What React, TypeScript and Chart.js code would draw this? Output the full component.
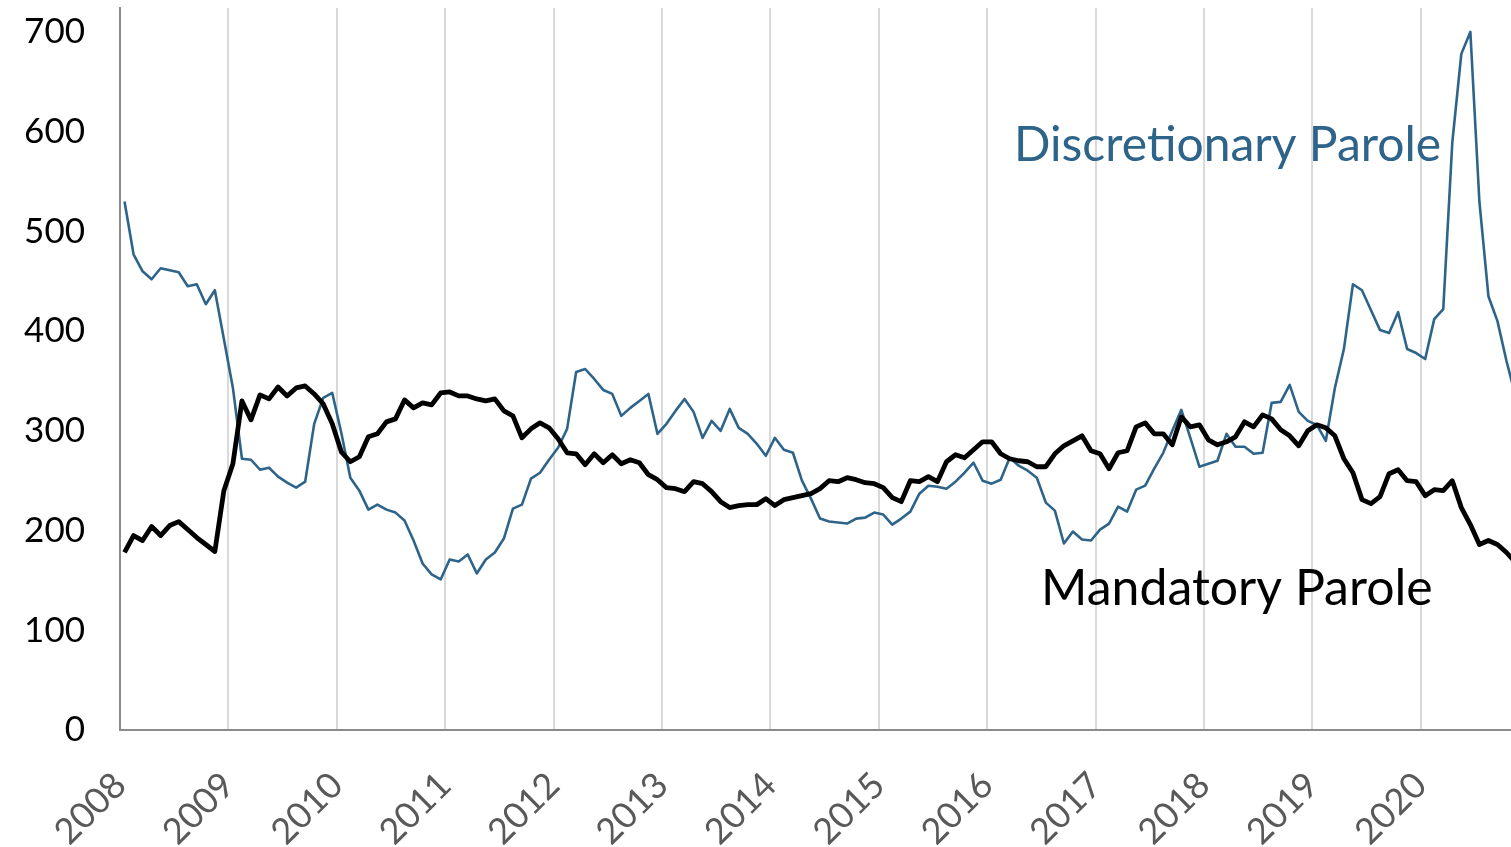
import React, { useEffect, useRef } from "react";
import { Chart, registerables } from "chart.js";

Chart.register(...registerables);

const years: string[] = ["2008","2009","2010","2011","2012","2013","2014","2015","2016","2017","2018","2019","2020"];
const yTicks: number[] = [0, 100, 200, 300, 400, 500, 600, 700];

// Monthly values, Jan 2008 onward
const discretionary: number[] = [
  530,477,460,452,463,461,459,445,447,427,441,392,
  343,272,271,261,263,254,248,243,249,307,333,338,
  298,253,240,221,226,221,218,210,190,167,156,151,
  171,169,176,157,171,178,192,222,226,252,258,271,
  283,302,359,362,352,341,337,315,323,330,337,297,
  307,320,332,319,293,310,300,322,303,297,287,275,
  293,281,278,250,232,212,209,208,207,212,213,218,
  216,206,212,219,237,245,244,242,249,258,268,250,
  247,251,273,265,260,253,228,220,187,199,191,190,
  201,207,224,219,241,245,262,278,300,321,293,264,
  267,270,297,284,284,277,278,328,329,346,319,310,
  306,290,343,382,447,441,421,401,398,419,382,378,
  372,412,422,589,678,700,530,435,410,370,335
];

const mandatory: number[] = [
  178,195,190,204,195,205,209,201,193,186,179,240,
  267,330,311,336,332,344,335,343,345,337,327,307,
  279,269,274,294,297,309,312,331,323,328,326,338,
  339,335,335,332,330,332,320,315,293,302,308,303,
  292,278,277,266,277,268,276,267,271,268,256,251,
  243,242,239,249,247,239,229,223,225,226,226,232,
  225,231,233,235,237,242,250,249,253,251,248,247,
  243,233,229,250,249,254,249,269,276,273,281,289,
  289,277,272,270,269,264,264,277,285,290,295,280,
  277,262,278,280,304,308,297,297,286,314,304,306,
  291,286,289,294,309,304,316,312,301,295,285,300,
  306,303,295,272,258,231,227,234,257,261,250,249,
  235,241,240,250,223,206,186,190,186,178,168
];

const seriesNames: string[] = ["Mandatory Parole", "Discretionary Parole"];

const W = 1511;
const H = 847;
const FONT = "Lato, 'Noto Sans', sans-serif";

const labelPlugin = {
  id: "seriesLabels",
  afterDraw(chart: any) {
    const ctx = chart.ctx;
    ctx.save();
    ctx.textBaseline = "middle";
    ctx.textAlign = "left";
    ctx.font = `48px ${FONT}`;
    ctx.fillStyle = "#2e6489";
    ctx.fillText(seriesNames[1], 1014, 146);
    ctx.font = `50px ${FONT}`;
    ctx.fillStyle = "#000000";
    ctx.fillText(seriesNames[0], 1041, 589);
    ctx.restore();
  },
};

export default function App() {
  const ref = useRef<HTMLCanvasElement | null>(null);

  useEffect(() => {
    document.body.style.margin = "0";
    const canvas = ref.current;
    if (!canvas) return;
    const toPts = (arr: number[]) => arr.map((v, i) => ({ x: i + 0.5, y: v }));
    const chart = new Chart(canvas, {
      type: "line",
      data: {
        datasets: [
          {
            label: seriesNames[0],
            data: toPts(mandatory),
            borderColor: "#000000",
            borderWidth: 4.8,
            pointRadius: 0,
            tension: 0,
            borderJoinStyle: "round",
            clip: 0,
          },
          {
            label: seriesNames[1],
            data: toPts(discretionary),
            borderColor: "#2e6489",
            borderWidth: 2.6,
            pointRadius: 0,
            tension: 0,
            borderJoinStyle: "round",
            clip: 0,
          },
        ],
      },
      options: {
        responsive: false,
        animation: false,
        layout: { padding: { top: 8, right: 0, left: 0, bottom: 0 } },
        plugins: { legend: { display: false }, tooltip: { enabled: false } },
        scales: {
          x: {
            type: "linear",
            min: 0,
            max: 154,
            afterBuildTicks: (axis: any) => {
              axis.ticks = years.map((_, k) => ({ value: k * 12 }));
            },
            afterFit: (axis: any) => {
              axis.height = H - 730;
              axis.paddingLeft = 0;
              axis.paddingRight = 0;
            },
            ticks: {
              autoSkip: false,
              maxRotation: 45,
              minRotation: 45,
              padding: 34,
              color: "#595959",
              font: { family: FONT, size: 36 },
              callback: (v: any) => years[Math.round(Number(v) / 12)] ?? "",
            },
            grid: { color: "#d9d9d9", lineWidth: 2, drawTicks: false },
            border: { display: true, color: "#8c8c8c", width: 2 },
          },
          y: {
            min: 0,
            max: 724,
            afterBuildTicks: (axis: any) => {
              axis.ticks = yTicks.map((v) => ({ value: v }));
            },
            afterFit: (axis: any) => {
              axis.width = 120;
              axis.paddingTop = 0;
              axis.paddingBottom = 0;
            },
            ticks: {
              padding: 35,
              color: "#000000",
              font: { family: FONT, size: 35 },
            },
            grid: { display: false, drawTicks: false },
            border: { display: true, color: "#8c8c8c", width: 2 },
          },
        },
      },
      plugins: [labelPlugin],
    } as any);
    return () => chart.destroy();
  }, []);

  return (
    <div style={{ width: W, height: H, overflow: "hidden", background: "#fff" }}>
      <canvas ref={ref} width={W} height={H} style={{ display: "block" }} />
    </div>
  );
}
